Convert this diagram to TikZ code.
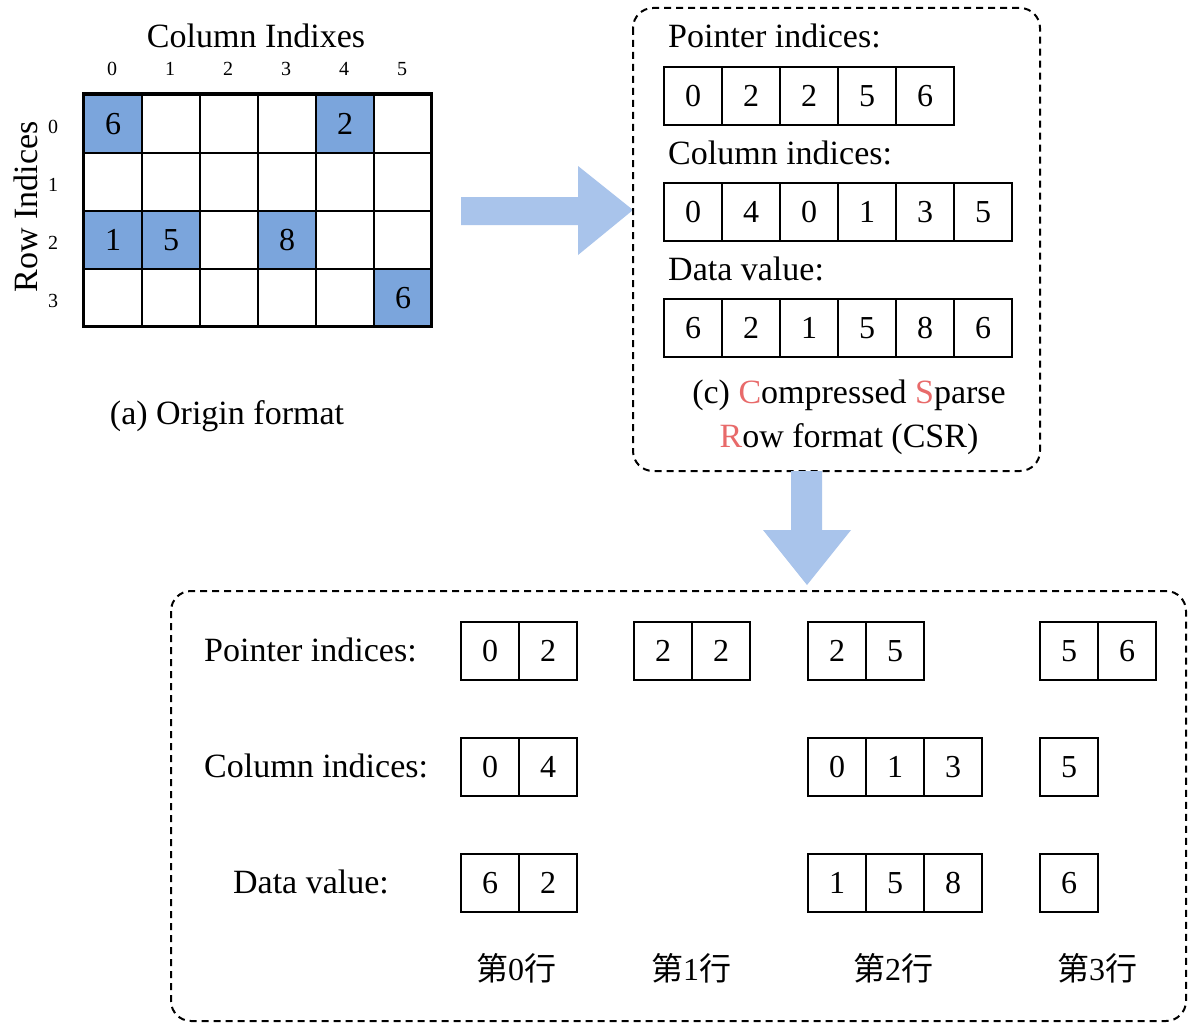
\documentclass[tikz,border=0pt]{standalone}
\usepackage{fontspec}
\setmainfont{Liberation Serif}
\newfontfamily\cjk{Noto Sans CJK SC}
\definecolor{cellblue}{RGB}{123,165,220}
\definecolor{arrowblue}{RGB}{169,196,235}
\definecolor{csrred}{RGB}{232,106,106}
\begin{document}
\begin{tikzpicture}[x=1pt,y=-1pt,
  cell/.style={draw, line width=2pt, minimum width=58pt, minimum height=58pt, inner sep=0pt, anchor=north west, font=\fontsize{32}{36}\selectfont},
  bluecell/.style={cell, fill=cellblue},
  lbl/.style={inner sep=0pt, font=\fontsize{34}{40}\selectfont},
  idx/.style={inner sep=0pt, font=\fontsize{20}{24}\selectfont},
  dashbox/.style={draw, line width=2pt, dash pattern=on 7pt off 5pt, rounded corners=20pt},
  bigarrow/.style={fill=arrowblue, draw=none}]
\useasboundingbox (0,0) rectangle (1193,1030);
\fill[white] (0,0) rectangle (1193,1030);

% ---------- (a) origin grid ----------
\foreach \r in {0,...,3}{
  \foreach \c in {0,...,5}{
    \node[cell] (g-\r-\c) at (83+58*\c, 94+58*\r) {};
  }
}
\node[bluecell] (b00) at (83,94) {6};
\node[bluecell] (b04) at (83+58*4,94) {2};
\node[bluecell] (b20) at (83,94+116) {1};
\node[bluecell] (b21) at (83+58,94+116) {5};
\node[bluecell] (b23) at (83+58*3,94+116) {8};
\node[bluecell] (b35) at (83+58*5,94+174) {6};
\draw[line width=3pt] (83,94) rectangle (431,326);

\node[lbl, anchor=base] (colidx) at (256,48) {Column Indixes};
\foreach \c in {0,...,5}{
  \node[idx] (ci\c) at (112+58*\c, 69) {\c};
}
\node[lbl, rotate=90] (rowidx) at (26,207) {Row Indices};
\foreach \r in {0,...,3}{
  \node[idx] (ri\r) at (53, 127+58*\r) {\r};
}
\node[lbl, anchor=base] (capa) at (227,424) {(a) Origin format};

% ---------- right arrow ----------
\fill[arrowblue] (461,197) -- (578,197) -- (578,166) -- (633,210) -- (578,255) -- (578,225) -- (461,225) -- cycle;

% ---------- (c) CSR box ----------
\draw[dashbox] (633,8) rectangle (1040,471);
\node[lbl, anchor=base west] (tp) at (668,48) {Pointer indices:};
\foreach \v [count=\i from 0] in {0,2,2,5,6}{
  \node[cell] (tp\i) at (663+58*\i,66) {\v};
}
\node[lbl, anchor=base west] (tc) at (668,164) {Column indices:};
\foreach \v [count=\i from 0] in {0,4,0,1,3,5}{
  \node[cell] (tc\i) at (663+58*\i,182) {\v};
}
\node[lbl, anchor=base west] (td) at (668,280) {Data value:};
\foreach \v [count=\i from 0] in {6,2,1,5,8,6}{
  \node[cell] (td\i) at (663+58*\i,298) {\v};
}
\node[lbl, anchor=base] (capc1) at (849,403) {(c) \textcolor{csrred}{C}ompressed \textcolor{csrred}{S}parse};
\node[lbl, anchor=base] (capc2) at (849,447) {\textcolor{csrred}{R}ow format (CSR)};

% ---------- down arrow ----------
\fill[arrowblue] (791,471) -- (822,471) -- (822,530) -- (851,530) -- (807,585) -- (763,530) -- (791,530) -- cycle;

% ---------- bottom box ----------
\draw[dashbox] (171,591) rectangle (1186,1021);
\node[lbl, anchor=base west] (bp) at (204,661) {Pointer indices:};
\node[lbl, anchor=base west] (bc) at (204,777) {Column indices:};
\node[lbl, anchor=base] (bd) at (311,893) {Data value:};

% pointer rows
\node[cell] (bp00) at (460,621) {0};
\node[cell] (bp01) at (518,621) {2};
\node[cell] (bp10) at (633,621) {2};
\node[cell] (bp11) at (691,621) {2};
\node[cell] (bp20) at (807,621) {2};
\node[cell] (bp21) at (865,621) {5};
\node[cell] (bp30) at (1039,621) {5};
\node[cell] (bp31) at (1097,621) {6};
% column rows
\node[cell] (bc00) at (460,737) {0};
\node[cell] (bc01) at (518,737) {4};
\node[cell] (bc20) at (807,737) {0};
\node[cell] (bc21) at (865,737) {1};
\node[cell] (bc22) at (923,737) {3};
\node[cell] (bc30) at (1039,737) {5};
% data rows
\node[cell] (bd00) at (460,853) {6};
\node[cell] (bd01) at (518,853) {2};
\node[cell] (bd20) at (807,853) {1};
\node[cell] (bd21) at (865,853) {5};
\node[cell] (bd22) at (923,853) {8};
\node[cell] (bd30) at (1039,853) {6};

% row captions
\node[lbl, anchor=base, font=\fontsize{32}{36}\selectfont] (r0) at (516,980) {{\cjk 第}0{\cjk 行}};
\node[lbl, anchor=base, font=\fontsize{32}{36}\selectfont] (r1) at (691,980) {{\cjk 第}1{\cjk 行}};
\node[lbl, anchor=base, font=\fontsize{32}{36}\selectfont] (r2) at (893,980) {{\cjk 第}2{\cjk 行}};
\node[lbl, anchor=base, font=\fontsize{32}{36}\selectfont] (r3) at (1097,980) {{\cjk 第}3{\cjk 行}};
\end{tikzpicture}
\end{document}
